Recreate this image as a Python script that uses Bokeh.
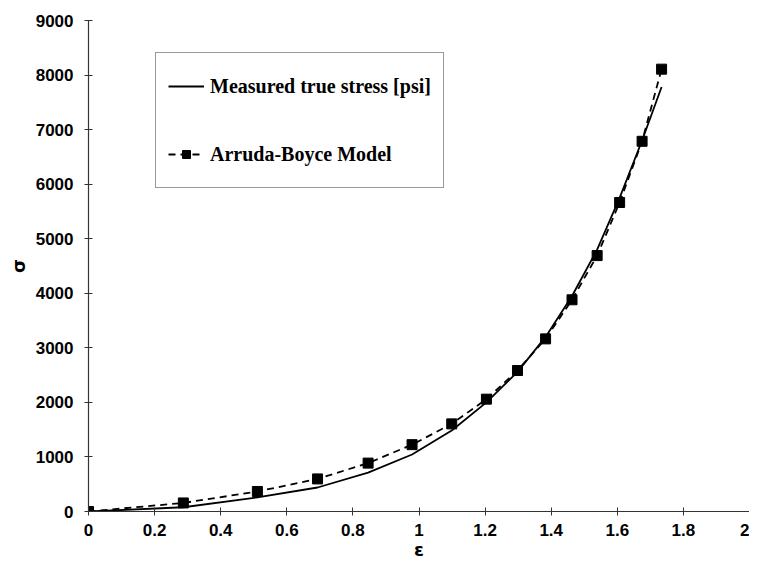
from bokeh.plotting import figure
from bokeh.models import Range1d, FixedTicker, Legend, LegendItem, NumeralTickFormatter
from bokeh.embed import file_html
from bokeh.resources import INLINE

# data
strain = [0, 0.287, 0.511, 0.693, 0.846, 0.979, 1.099, 1.204, 1.298, 1.383,
          1.463, 1.539, 1.607, 1.675, 1.734]
measured_stress = [0, 78, 259, 440, 712, 1045, 1485, 2000, 2560, 3200,
                   3950, 4800, 5750, 6800, 7780]
model_stress = [0, 157, 367, 597, 887, 1225, 1606, 2059, 2584, 3164,
                3881, 4691, 5664, 6786, 8108]
x_ticks = [0, 0.2, 0.4, 0.6, 0.8, 1, 1.2, 1.4, 1.6, 1.8, 2]
y_ticks = [0, 1000, 2000, 3000, 4000, 5000, 6000, 7000, 8000, 9000]
series_labels = ["Measured true stress [psi]", "Arruda-Boyce Model"]

p = figure(width=749, height=562, output_backend="svg", toolbar_location=None,
           x_range=Range1d(0, 2), y_range=Range1d(0, 9000),
           min_border_left=88, min_border_right=0, min_border_top=20,
           min_border_bottom=46)
p.outline_line_color = None
p.xgrid.visible = False
p.ygrid.visible = False

r_meas = p.line(strain, measured_stress, line_color="black", line_width=1.8)
r_model_line = p.line(strain, model_stress, line_color="black", line_width=1.8,
                      line_dash="7 5")
r_model_pts = p.scatter(strain, model_stress, marker="square", size=10,
                        fill_color="black", line_color="black")

for ax in (p.xaxis[0], p.yaxis[0]):
    ax.axis_line_color = "#333333"
    ax.axis_line_width = 1.2
    ax.major_tick_line_color = "#333333"
    ax.major_tick_in = 4
    ax.major_tick_out = 4
    ax.minor_tick_line_color = None
    ax.major_label_text_font = "Liberation Sans"
    ax.major_label_text_font_style = "bold"
    ax.major_label_text_font_size = "17px"
    ax.major_label_text_color = "black"
    ax.axis_label_text_font = "DejaVu Sans"
    ax.axis_label_text_font_style = "bold"
    ax.axis_label_text_font_size = "18px"
    ax.axis_label_text_color = "black"

p.xaxis.ticker = FixedTicker(ticks=x_ticks)
p.xaxis.formatter = NumeralTickFormatter(format="0.[0]")
p.yaxis.ticker = FixedTicker(ticks=y_ticks)
p.xaxis.axis_label = "ε"
p.yaxis.axis_label = "σ"
p.xaxis.major_label_standoff = 8
p.yaxis.major_label_standoff = 11
p.xaxis.axis_label_standoff = 0
p.yaxis.axis_label_standoff = 4

legend = Legend(items=[LegendItem(label=series_labels[0], renderers=[r_meas]),
                       LegendItem(label=series_labels[1],
                                  renderers=[r_model_line, r_model_pts])],
                location=(67, 323))
legend.border_line_color = "#333333"
legend.border_line_width = 1
legend.background_fill_color = "white"
legend.background_fill_alpha = 1
legend.label_text_font = "Liberation Serif"
legend.label_text_font_style = "bold"
legend.label_text_font_size = "20px"
legend.label_text_color = "black"
legend.glyph_width = 36
legend.glyph_height = 20
legend.label_height = 42
legend.padding = 12
legend.spacing = 26
legend.label_standoff = 6
legend.margin = 0
p.add_layout(legend)

open("out.html", "w").write(file_html(p, INLINE))
